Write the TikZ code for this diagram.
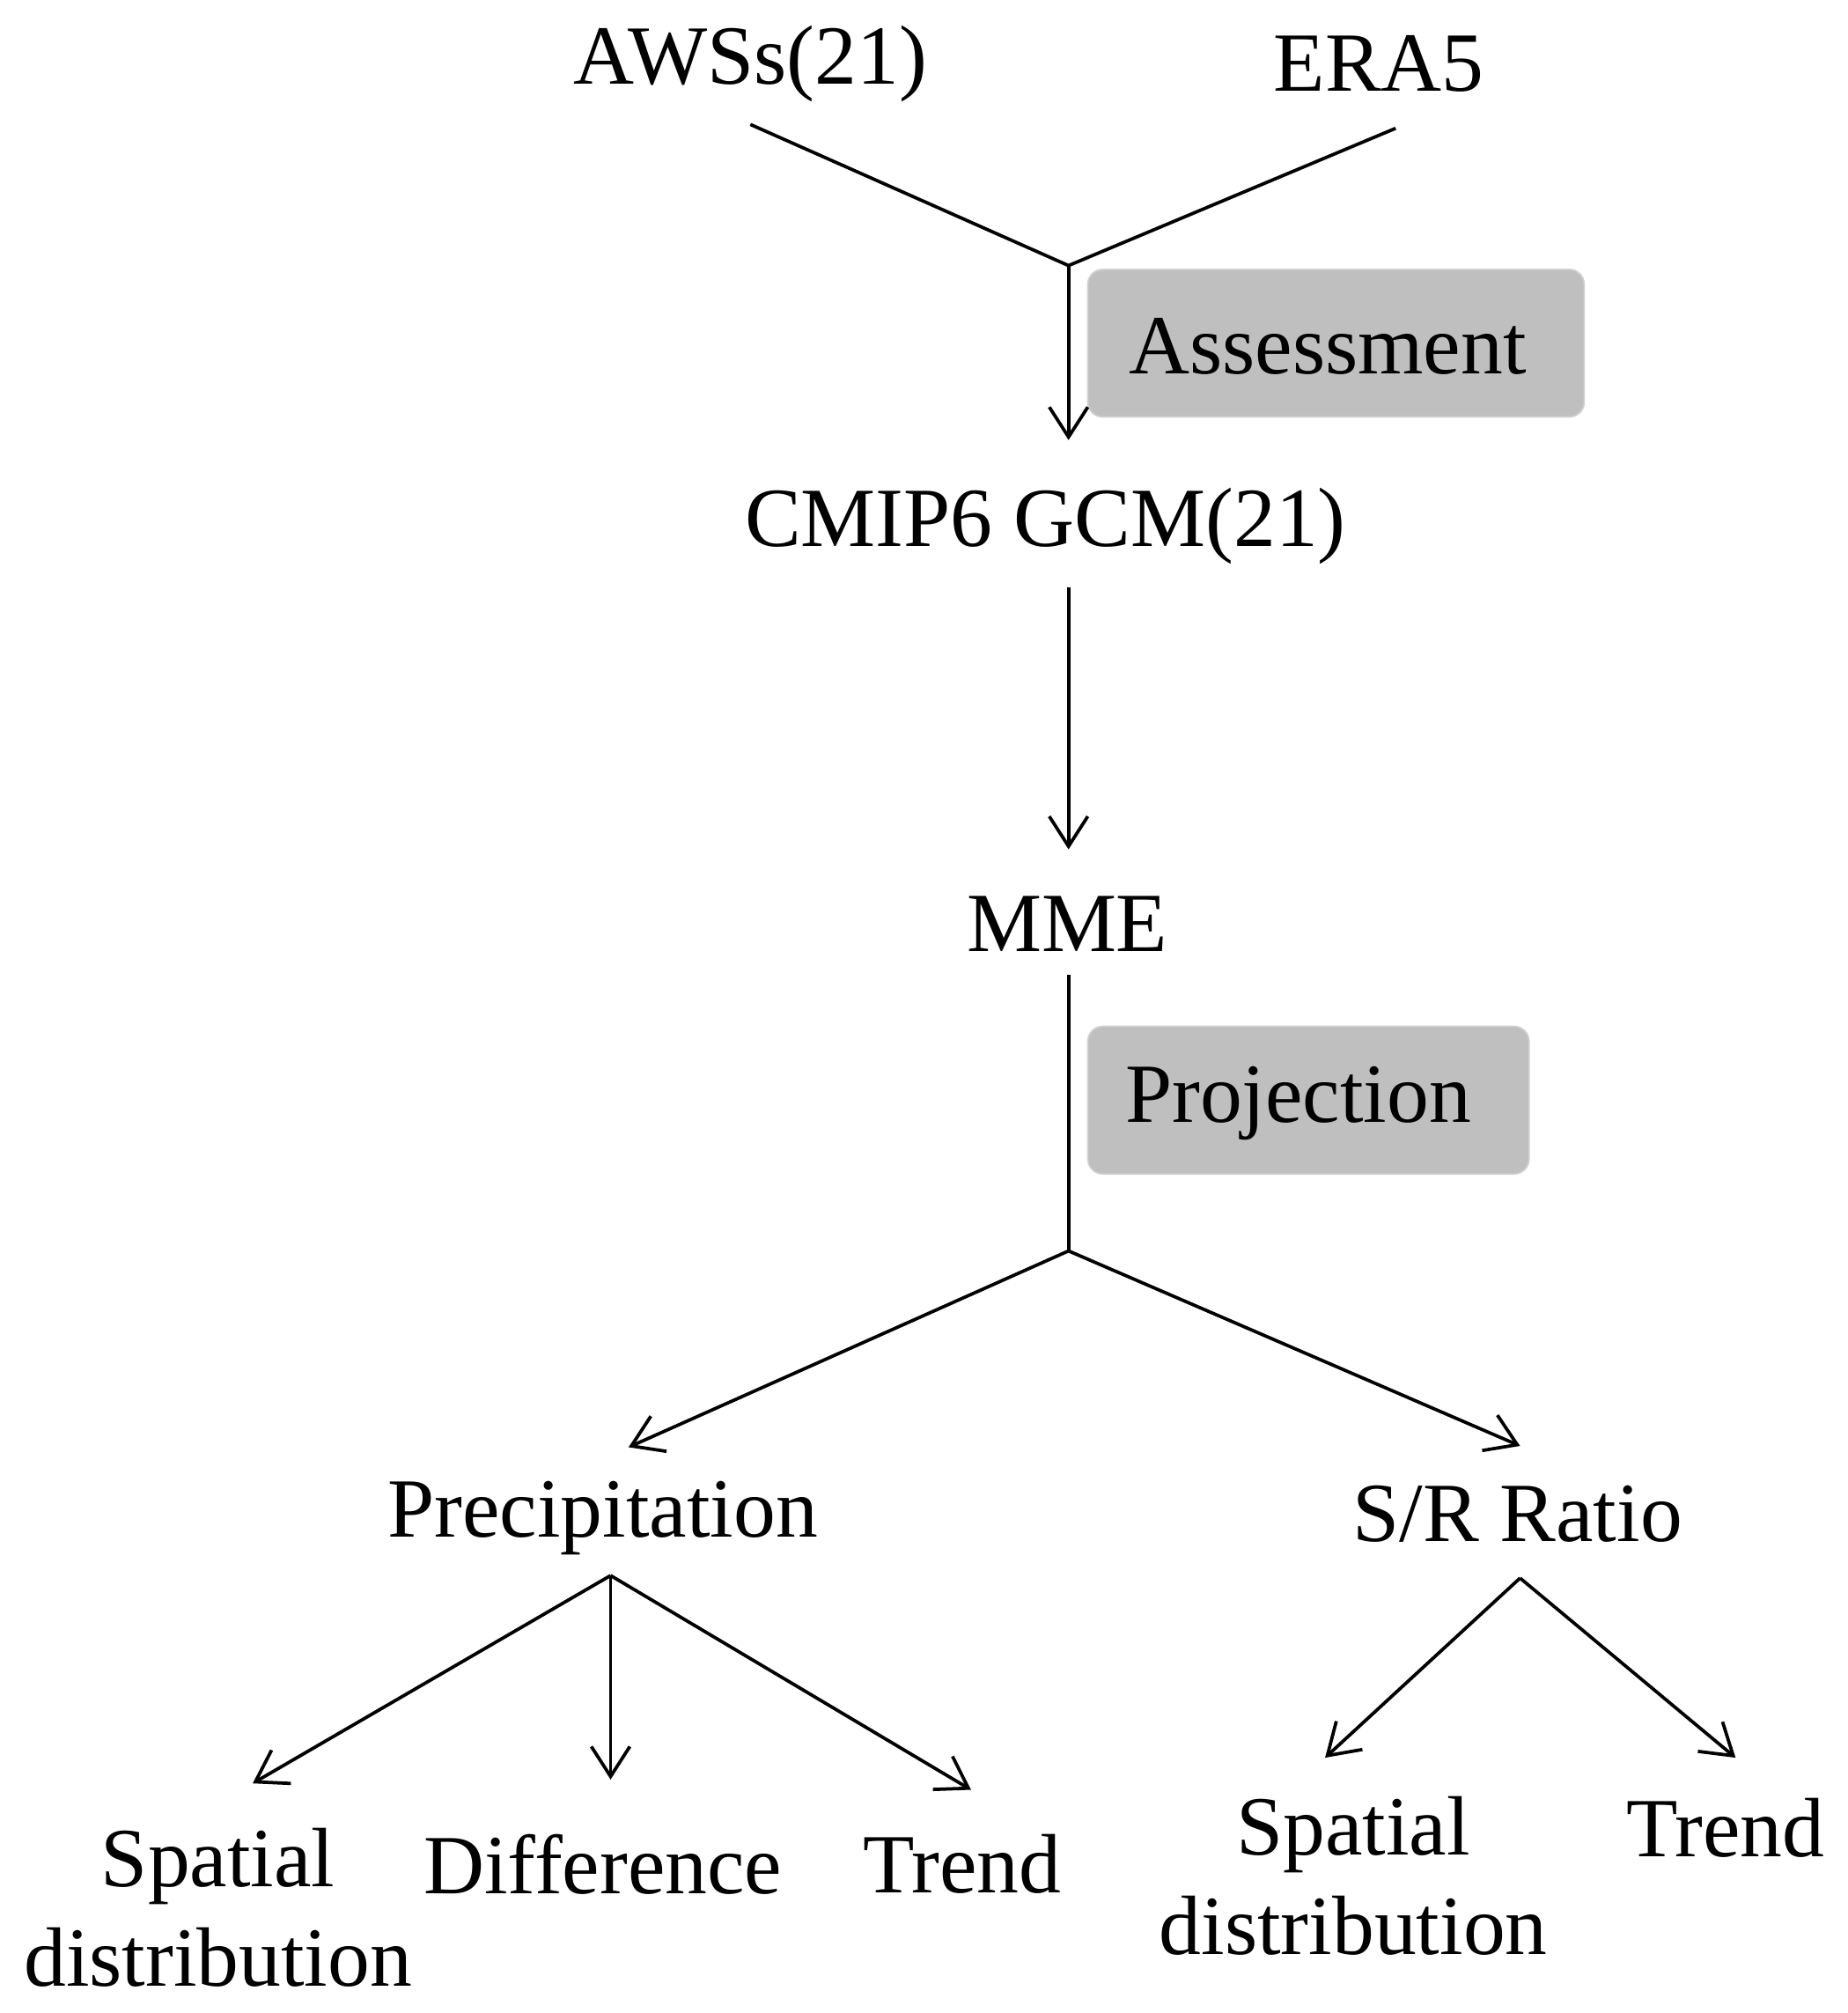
\documentclass[tikz,border=0pt]{standalone}
\usepackage{fontspec}
\setmainfont{Liberation Serif}
\usetikzlibrary{arrows.meta}
\begin{document}
\begin{tikzpicture}[x=0.03cm,y=-0.03cm,
  t/.style={font=\fontsize{56}{66}\selectfont,inner sep=0pt,align=center},
  box/.style={fill=black!25,draw=black!18,line width=1pt,rounded corners=0.35cm},
  ln/.style={line width=2.2pt},
  ar/.style={ln,-{Straight Barb[length=0.7cm,width=0.9cm,line width=2.2pt]}}]
\useasboundingbox (0,0) rectangle (1440,1569);
\node[t] (aws) at (585,50) {AWSs(21)};
\node[t] (era) at (1075,50) {ERA5};
\coordinate (j1) at (833,207);
\coordinate (a1) at (585,97);
\coordinate (a2) at (1088,100);
\draw[ln] (a1) -- (j1) -- (a2);
\node[box,minimum width=387*0.03cm,minimum height=115*0.03cm] (ab) at (1041.5,267.5) {};
\node[t] (as) at (1035,270) {Assessment};
\node[t] (gcm) at (815,410) {CMIP6 GCM(21)};
\coordinate (g1) at (833,343);
\draw[ar] (j1) -- (g1);
\coordinate (g2) at (833,458);
\coordinate (m1) at (833,662);
\draw[ar] (g2) -- (m1);
\node[t] (mme) at (832,720) {MME};
\node[box,minimum width=344*0.03cm,minimum height=115*0.03cm] (pb) at (1020,857.5) {};
\node[t] (pr) at (1012,860) {Projection};
\coordinate (m2) at (833,760);
\coordinate (j2) at (833,975);
\draw[ln] (m2) -- (j2);
\coordinate (p1) at (490,1128);
\coordinate (s1) at (1185,1127);
\draw[ar] (j2) -- (p1);
\draw[ar] (j2) -- (s1);
\node[t] (prec) at (470,1183) {Precipitation};
\node[t] (sr) at (1183,1180) {S/R Ratio};
\coordinate (pj) at (476,1228);
\coordinate (e1) at (197,1390);
\coordinate (e2) at (476,1387);
\coordinate (e3) at (757,1395);
\draw[ar] (pj) -- (e1);
\draw[ar] (pj) -- (e2);
\draw[ar] (pj) -- (e3);
\node[t] (sd1) at (170,1487) {Spatial\\distribution};
\node[t] (dif) at (470,1453) {Difference};
\node[t] (tr1) at (750,1453) {Trend};
\coordinate (sj) at (1185,1230);
\coordinate (f1) at (1033,1370);
\coordinate (f2) at (1353,1370);
\draw[ar] (sj) -- (f1);
\draw[ar] (sj) -- (f2);
\node[t] (sd2) at (1055,1462) {Spatial\\distribution};
\node[t] (tr2) at (1345,1425) {Trend};
\end{tikzpicture}
\end{document}
